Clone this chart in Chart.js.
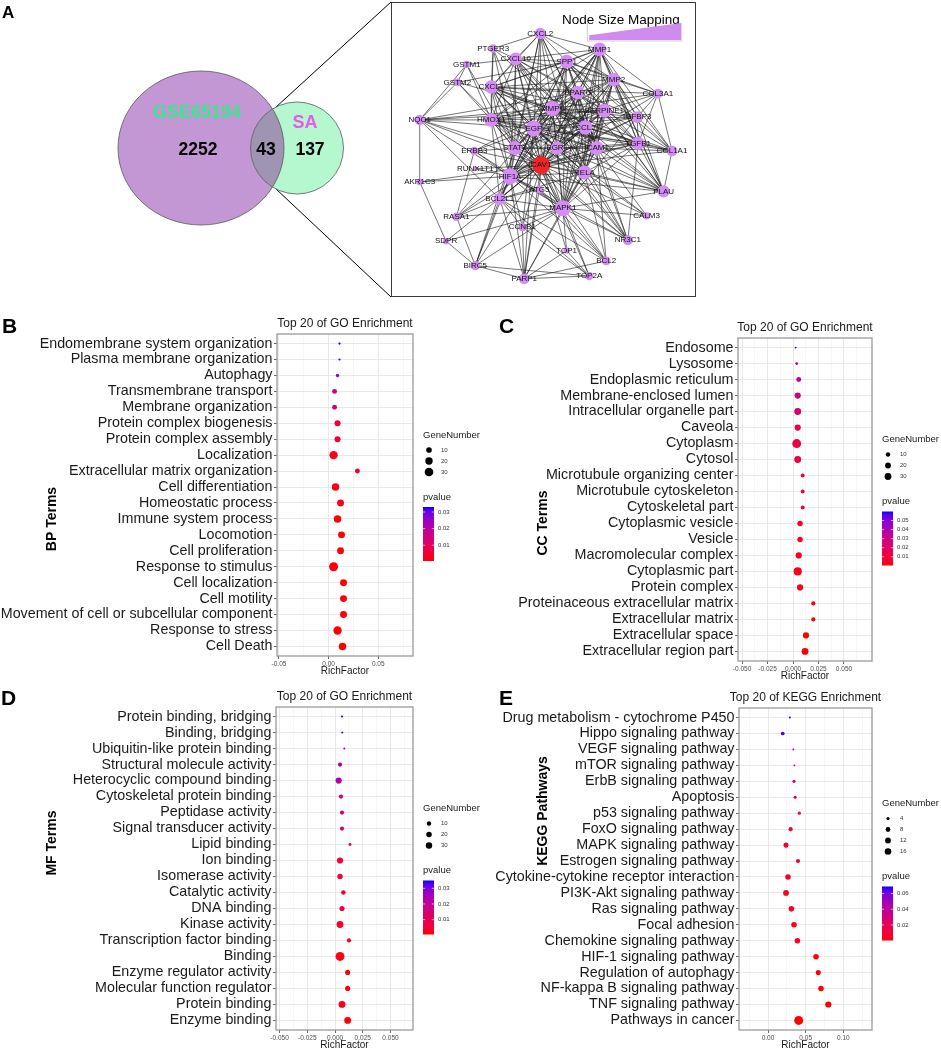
<!DOCTYPE html>
<html>
<head>
<meta charset="utf-8">
<script src="https://cdn.jsdelivr.net/npm/chart.js@4.4.1/dist/chart.umd.min.js"></script>
<style>
  body { margin: 0; background: #fff; width: 941px; height: 1051px; position: relative; overflow: hidden; }
  canvas { position: absolute; }
  .letter { position: absolute; font-family: "Liberation Sans", Arial, sans-serif; font-weight: bold; color: #000; }
  #netBox { position: absolute; left: 391px; top: 2px; width: 303px; height: 293px; border: 1.5px solid #3a3a3a; }
</style>
</head>
<body>
<canvas id="venn" width="392" height="300" style="left:0;top:0"></canvas>
<canvas id="network" width="308" height="300" style="left:390px;top:0"></canvas>
<div id="netBox"></div>
<canvas id="bp" width="500" height="378" style="left:0;top:305px"></canvas>
<canvas id="cc" width="471" height="378" style="left:470px;top:305px"></canvas>
<canvas id="mf" width="500" height="368" style="left:0;top:683px"></canvas>
<canvas id="kegg" width="471" height="368" style="left:470px;top:683px"></canvas>
<div class="letter" style="left:2px;top:4px;font-size:17px;line-height:17px">A</div>
<div class="letter" style="left:2px;top:315px;font-size:21px;line-height:21px">B</div>
<div class="letter" style="left:499px;top:315px;font-size:21px;line-height:21px">C</div>
<div class="letter" style="left:1px;top:687px;font-size:21px;line-height:21px">D</div>
<div class="letter" style="left:499px;top:687px;font-size:21px;line-height:21px">E</div>
<script>
const FONT = '"Liberation Sans", Arial, Helvetica, sans-serif';
Chart.defaults.font.family = FONT;

// ---- Panel A data ----
const vennNames = ['GSE65194', 'SA'];
const vennCounts = [2252, 43, 137]; // only GSE65194, both, only SA

const nodeNames = ['CXCL2', 'PTGER3', 'CXCL10', 'SPP1', 'MMP1', 'GSTM1', 'GSTM2', 'CXCL1', 'MMP2', 'PPARG',
  'COL3A1', 'MMP9', 'SERPINE1', 'IGFBP3', 'NQO1', 'HMOX1', 'EGF', 'CCL2', 'STAT3', 'EGR1',
  'ICAM1', 'TGFB1', 'COL1A1', 'ERBB3', 'CAV1', 'RUNX1T1', 'HIF1A', 'RELA', 'AKR1C3', 'ATG5',
  'PLAU', 'BCL2L1', 'MAPK1', 'RASA1', 'CALM3', 'CCNB1', 'SDPR', 'NR3C1', 'TOP1', 'BCL2',
  'BIRC5', 'PARP1', 'TOP2A'];
// layout coordinates of the network drawing
const nodeX = [150, 100, 124, 178, 213, 72, 62, 98, 228, 190,
  275, 163, 218, 253, 22, 98, 143, 198, 123, 168,
  210, 254, 290, 80, 151, 81, 118, 197, 22, 149,
  281, 107, 174, 61, 263, 131, 50, 243, 178, 220,
  81, 133, 202];
const nodeY = [26, 42, 53, 56, 43, 59, 78, 83, 75, 89,
  90, 106, 108, 115, 118, 118, 127, 126, 148, 148,
  148, 143, 151, 151, 166, 170, 178, 174, 184, 192,
  194, 202, 212, 221, 220, 232, 247, 246, 257, 268,
  273, 287, 284];
// interactions: first gene of each line linked to every following gene
const edgeList = [
  'CAV1 HIF1A EGF MMP9 CCL2 STAT3 EGR1 ICAM1 RELA MAPK1 BCL2L1 HMOX1 CXCL1 CXCL10 CXCL2 SPP1 MMP1 MMP2 PPARG SERPINE1 TGFB1 PLAU IGFBP3 COL1A1 COL3A1 ATG5 ERBB3 RUNX1T1 AKR1C3 NQO1 RASA1 SDPR CCNB1 BIRC5 PARP1 TOP1 TOP2A BCL2 NR3C1 CALM3 GSTM2 PTGER3',
  'HIF1A EGF MMP9 CCL2 STAT3 EGR1 ICAM1 RELA MAPK1 BCL2L1 HMOX1 CXCL1 CXCL10 CXCL2 SPP1 MMP1 MMP2 PPARG SERPINE1 TGFB1 PLAU IGFBP3 ATG5 ERBB3 RUNX1T1 AKR1C3 NQO1 BIRC5 PARP1 BCL2 NR3C1 CCNB1 RASA1',
  'EGF MMP9 CCL2 STAT3 EGR1 ICAM1 RELA MAPK1 BCL2L1 HMOX1 CXCL1 CXCL10 CXCL2 SPP1 MMP1 MMP2 PPARG SERPINE1 TGFB1 PLAU IGFBP3 COL1A1 ERBB3 NQO1 RASA1 CCNB1 PARP1 NR3C1 CALM3',
  'MMP9 CCL2 STAT3 EGR1 ICAM1 RELA MAPK1 BCL2L1 HMOX1 CXCL1 CXCL10 CXCL2 SPP1 MMP1 MMP2 PPARG SERPINE1 TGFB1 PLAU IGFBP3 COL1A1 COL3A1 ERBB3 NR3C1 GSTM2 NQO1',
  'CCL2 STAT3 EGR1 ICAM1 RELA MAPK1 HMOX1 CXCL1 CXCL10 CXCL2 SPP1 MMP1 MMP2 PPARG SERPINE1 TGFB1 PLAU IGFBP3 COL1A1 NR3C1 PTGER3 BCL2L1',
  'STAT3 EGR1 ICAM1 RELA MAPK1 BCL2L1 HMOX1 CXCL1 CXCL10 CXCL2 SPP1 MMP1 PPARG SERPINE1 ERBB3 NQO1 BIRC5 PTGER3 NR3C1 GSTM1',
  'EGR1 ICAM1 RELA MAPK1 HMOX1 CXCL1 CXCL10 SPP1 MMP1 MMP2 SERPINE1 TGFB1 PLAU PPARG NR3C1',
  'ICAM1 RELA MAPK1 HMOX1 CXCL1 CXCL10 CXCL2 SPP1 MMP1 MMP2 SERPINE1 TGFB1 PLAU COL1A1 PPARG NR3C1 CALM3 BCL2',
  'RELA MAPK1 BCL2L1 HMOX1 CXCL1 CXCL10 CXCL2 MMP1 MMP2 SERPINE1 TGFB1 PLAU PPARG PARP1 BCL2 NR3C1 CALM3',
  'MAPK1 BCL2L1 HMOX1 CXCL1 SPP1 MMP1 MMP2 SERPINE1 TGFB1 PLAU PPARG RASA1 SDPR CCNB1 BIRC5 PARP1 TOP1 TOP2A BCL2 NR3C1 CALM3 ERBB3 IGFBP3',
  'BCL2L1 HMOX1 BIRC5 PARP1 BCL2 CCNB1 TOP2A NQO1 ATG5 RASA1',
  'HMOX1 CXCL1 CXCL10 NQO1 GSTM1 GSTM2 PTGER3 MMP1 SPP1 PPARG SERPINE1 TGFB1 IGFBP3',
  'CXCL1 CXCL10 CXCL2 PTGER3 MMP1 SPP1 MMP2 PPARG SERPINE1 TGFB1 COL3A1',
  'CXCL10 CXCL2 PTGER3 MMP1 SPP1 GSTM1 MMP2 SERPINE1 PPARG',
  'CXCL2 PTGER3 MMP1 SPP1 MMP2',
  'SPP1 MMP1 MMP2 PPARG SERPINE1 TGFB1 PLAU IGFBP3 COL1A1 COL3A1 GSTM2',
  'MMP1 MMP2 PPARG SERPINE1 TGFB1 PLAU IGFBP3 COL1A1 COL3A1',
  'MMP2 PPARG SERPINE1 TGFB1 PLAU IGFBP3 COL1A1 COL3A1',
  'PPARG SERPINE1 TGFB1 PLAU IGFBP3 NQO1',
  'SERPINE1 TGFB1 PLAU IGFBP3 COL1A1 COL3A1 NQO1',
  'TGFB1 PLAU IGFBP3 COL1A1 COL3A1 NR3C1',
  'PLAU IGFBP3 COL1A1',
  'IGFBP3 COL1A1 COL3A1',
  'COL1A1 COL3A1',
  'GSTM1 GSTM2 NQO1',
  'GSTM2 NQO1',
  'NQO1 AKR1C3',
  'AKR1C3 SDPR',
  'RASA1 ERBB3 BIRC5',
  'BIRC5 PARP1 TOP2A SDPR',
  'PARP1 TOP2A TOP1 BCL2 CCNB1',
  'TOP2A TOP1 CCNB1',
  'ATG5 PARP1 MAPK1 BCL2'
];

// ---- Panel B: BP ----
const bpTerms = ['Endomembrane system organization', 'Plasma membrane organization', 'Autophagy',
  'Transmembrane transport', 'Membrane organization', 'Protein complex biogenesis', 'Protein complex assembly',
  'Localization', 'Extracellular matrix organization', 'Cell differentiation', 'Homeostatic process',
  'Immune system process', 'Locomotion', 'Cell proliferation', 'Response to stimulus', 'Cell localization',
  'Cell motility', 'Movement of cell or subcellular component', 'Response to stress', 'Cell Death'];
const bpRich = [0.011, 0.011, 0.009, 0.006, 0.006, 0.009, 0.009, 0.005, 0.029, 0.007,
  0.012, 0.009, 0.013, 0.012, 0.005, 0.015, 0.015, 0.015, 0.009, 0.014];
const bpGenes = [2, 2, 3, 7, 7, 12, 12, 27, 7, 21, 17, 21, 17, 17, 33, 17, 17, 17, 27, 21];
const bpPvalue = [0.033, 0.032, 0.026, 0.017, 0.016, 0.006, 0.006, 0.002, 0.003, 0.002,
  0.002, 0.001, 0.001, 0.001, 0.0005, 0.0008, 0.0008, 0.0008, 0.0007, 0.0006];

// ---- Panel C: CC ----
const ccTerms = ['Endosome', 'Lysosome', 'Endoplasmic reticulum', 'Membrane-enclosed lumen',
  'Intracellular organelle part', 'Caveola', 'Cytoplasm', 'Cytosol', 'Microtubule organizing center',
  'Microtubule cytoskeleton', 'Cytoskeletal part', 'Cytoplasmic vesicle', 'Vesicle', 'Macromolecular complex',
  'Cytoplasmic part', 'Protein complex', 'Proteinaceous extracellular matrix', 'Extracellular matrix',
  'Extracellular space', 'Extracellular region part'];
const ccRich = [0.0026, 0.0036, 0.0056, 0.0046, 0.0046, 0.0046, 0.0036, 0.0046, 0.0095, 0.0095,
  0.0095, 0.0069, 0.0069, 0.0056, 0.0046, 0.0069, 0.0199, 0.0199, 0.0127, 0.0118];
const ccGenes = [2, 3, 13, 24, 32, 24, 60, 32, 7, 7, 7, 17, 17, 24, 49, 24, 8, 8, 24, 32];
const ccPvalue = [0.060, 0.045, 0.036, 0.027, 0.024, 0.014, 0.012, 0.012, 0.005, 0.005,
  0.005, 0.004, 0.004, 0.004, 0.003, 0.003, 0.001, 0.001, 0.0005, 0.0004];

// ---- Panel D: MF ----
const mfTerms = ['Protein binding, bridging', 'Binding, bridging', 'Ubiquitin-like protein binding',
  'Structural molecule activity', 'Heterocyclic compound binding', 'Cytoskeletal protein binding',
  'Peptidase activity', 'Signal transducer activity', 'Lipid binding', 'Ion binding', 'Isomerase activity',
  'Catalytic activity', 'DNA binding', 'Kinase activity', 'Transcription factor binding', 'Binding',
  'Enzyme regulator activity', 'Molecular function regulator', 'Protein binding', 'Enzyme binding'];
const mfRich = [0.0063, 0.0066, 0.0084, 0.0045, 0.0033, 0.0054, 0.0063, 0.0063, 0.0135, 0.0045,
  0.0045, 0.0075, 0.0063, 0.0045, 0.0126, 0.0045, 0.0114, 0.0114, 0.0063, 0.0114];
const mfGenes = [2, 2, 2, 9, 27, 9, 9, 9, 3, 27, 19, 11, 16, 36, 9, 70, 16, 16, 36, 36];
const mfPvalue = [0.035, 0.034, 0.027, 0.024, 0.022, 0.016, 0.013, 0.012, 0.009, 0.005,
  0.005, 0.004, 0.007, 0.004, 0.003, 0.002, 0.001, 0.001, 0.002, 0.0005];

// ---- Panel E: KEGG ----
const keggTerms = ['Drug metabolism - cytochrome P450', 'Hippo signaling pathway', 'VEGF signaling pathway',
  'mTOR signaling pathway', 'ErbB signaling pathway', 'Apoptosis', 'p53 signaling pathway',
  'FoxO signaling pathway', 'MAPK signaling pathway', 'Estrogen signaling pathway',
  'Cytokine-cytokine receptor interaction', 'PI3K-Akt signaling pathway', 'Ras signaling pathway',
  'Focal adhesion', 'Chemokine signaling pathway', 'HIF-1 signaling pathway', 'Regulation of autophagy',
  'NF-kappa B signaling pathway', 'TNF signaling pathway', 'Pathways in cancer'];
const keggRich = [0.029, 0.0195, 0.0336, 0.035, 0.0345, 0.036, 0.0416, 0.030, 0.0239, 0.0398,
  0.0265, 0.0239, 0.031, 0.0345, 0.039, 0.0637, 0.0667, 0.0703, 0.080, 0.0407];
const keggGenes = [3, 5, 3, 3, 4, 4, 4, 6, 9, 6, 11, 12, 11, 11, 11, 11, 9, 11, 14, 32];
const keggPvalue = [0.069, 0.066, 0.050, 0.044, 0.030, 0.026, 0.016, 0.010, 0.008, 0.006,
  0.006, 0.005, 0.004, 0.003, 0.003, 0.001, 0.0008, 0.0006, 0.0004, 0.0002];

// red -> blue gradient interpolated in Lab, like ggplot's scale_colour_gradient
function hexToLab(h) {
  const c = [1, 3, 5].map(i => parseInt(h.slice(i, i + 2), 16) / 255)
    .map(v => v <= 0.04045 ? v / 12.92 : Math.pow((v + 0.055) / 1.055, 2.4));
  const X = (0.4124 * c[0] + 0.3576 * c[1] + 0.1805 * c[2]) / 0.95047;
  const Y = 0.2126 * c[0] + 0.7152 * c[1] + 0.0722 * c[2];
  const Z = (0.0193 * c[0] + 0.1192 * c[1] + 0.9505 * c[2]) / 1.08883;
  const f = t => t > 0.008856 ? Math.cbrt(t) : 7.787 * t + 16 / 116;
  return [116 * f(Y) - 16, 500 * (f(X) - f(Y)), 200 * (f(Y) - f(Z))];
}
function labToCss(L, a, b) {
  const fy = (L + 16) / 116, fx = fy + a / 500, fz = fy - b / 200;
  const inv = t => t * t * t > 0.008856 ? t * t * t : (t - 16 / 116) / 7.787;
  const X = inv(fx) * 0.95047, Y = inv(fy), Z = inv(fz) * 1.08883;
  const lin = [3.2406 * X - 1.5372 * Y - 0.4986 * Z, -0.9689 * X + 1.8758 * Y + 0.0415 * Z, 0.0557 * X - 0.2040 * Y + 1.0570 * Z];
  const rgb = lin.map(v => v <= 0.0031308 ? 12.92 * v : 1.055 * Math.pow(v, 1 / 2.4) - 0.055)
    .map(v => Math.round(Math.min(1, Math.max(0, v)) * 255));
  return `rgb(${rgb.join(',')})`;
}
const LOW = hexToLab('#FF0000'), HIGH = hexToLab('#0000FF');
function gradColor(t) {
  t = Math.min(1, Math.max(0, t));
  return labToCss(LOW[0] + (HIGH[0] - LOW[0]) * t, LOW[1] + (HIGH[1] - LOW[1]) * t, LOW[2] + (HIGH[2] - LOW[2]) * t);
}

// Dot plot (ggplot style) for one enrichment panel
function makeDotPlot(cfg) {
  const canvas = document.getElementById(cfg.id);
  const W = canvas.width, H = canvas.height;
  const nMin = Math.min(...cfg.genes), nMax = Math.max(...cfg.genes);
  const pMin = Math.min(...cfg.pvals), pMax = Math.max(...cfg.pvals);
  const diam = n => cfg.dRange[0] + (cfg.dRange[1] - cfg.dRange[0]) * Math.sqrt((n - nMin) / (nMax - nMin));
  const col = p => gradColor((p - pMin) / (pMax - pMin));
  const isMajor = v => cfg.xMajor.some(m => Math.abs(m - v) < 1e-9);

  const decor = {
    id: 'decor',
    afterDraw(chart) {
      const { ctx, chartArea: a } = chart;
      ctx.save();
      // panel border
      ctx.strokeStyle = '#9a9a9a';
      ctx.lineWidth = 1.3;
      ctx.strokeRect(a.left, a.top, a.right - a.left, a.bottom - a.top);
      // title and x title
      ctx.fillStyle = '#1a1a1a';
      ctx.textAlign = 'center';
      ctx.textBaseline = 'middle';
      ctx.font = `12px ${FONT}`;
      ctx.fillText(cfg.title, (a.left + a.right) / 2, a.top - 10);
      ctx.font = `10px ${FONT}`;
      ctx.fillText('RichFactor', (a.left + a.right) / 2, a.bottom + 15);
      // y title
      ctx.save();
      ctx.translate(cfg.yTitlePos[0], cfg.yTitlePos[1]);
      ctx.rotate(-Math.PI / 2);
      ctx.font = `bold 14px ${FONT}`;
      ctx.fillStyle = '#000';
      ctx.fillText(cfg.yTitle, 0, 0);
      ctx.restore();

      // legends
      const k = cfg.breaks.length;
      const mid = (a.top + a.bottom) / 2 - (k - 3) * 5.5;
      const lx = a.right;
      ctx.textAlign = 'left';
      ctx.font = `9.5px ${FONT}`;
      ctx.fillStyle = '#1a1a1a';
      ctx.fillText('GeneNumber', lx + 10, mid - 60);
      cfg.breaks.forEach((b, i) => {
        const yy = mid - 45 + 11 * i;
        ctx.beginPath();
        ctx.arc(lx + 16, yy, diam(b) / 2, 0, Math.PI * 2);
        ctx.fillStyle = '#000';
        ctx.fill();
        ctx.fillStyle = '#333';
        ctx.font = `6px ${FONT}`;
        ctx.fillText(String(b), lx + 28, yy);
      });
      const pTitleY = mid - 45 + 11 * (k - 1) + 25;
      ctx.font = `9.5px ${FONT}`;
      ctx.fillStyle = '#1a1a1a';
      ctx.fillText('pvalue', lx + 10, pTitleY);
      const barTop = pTitleY + 10, barH = 54, barX = lx + 10, barW = 11;
      const grad = ctx.createLinearGradient(0, barTop, 0, barTop + barH);
      for (let s = 0; s <= 20; s++) grad.addColorStop(s / 20, gradColor(1 - s / 20));
      ctx.fillStyle = grad;
      ctx.fillRect(barX, barTop, barW, barH);
      ctx.font = `6px ${FONT}`;
      cfg.pBreaks.forEach(v => {
        const yy = barTop + barH - (v - pMin) / (pMax - pMin) * barH;
        ctx.strokeStyle = '#fff';
        ctx.lineWidth = 0.6;
        ctx.beginPath();
        ctx.moveTo(barX, yy); ctx.lineTo(barX + 2.2, yy);
        ctx.moveTo(barX + barW - 2.2, yy); ctx.lineTo(barX + barW, yy);
        ctx.stroke();
        ctx.fillStyle = '#333';
        ctx.fillText(v.toFixed(2), barX + barW + 4, yy);
      });
      ctx.restore();
    }
  };

  return new Chart(canvas, {
    type: 'bubble',
    data: {
      datasets: [{
        data: cfg.terms.map((t, i) => ({ x: cfg.rich[i], y: i, r: diam(cfg.genes[i]) / 2 })),
        backgroundColor: cfg.pvals.map(col),
        borderWidth: 0,
        hoverRadius: 0
      }]
    },
    options: {
      responsive: false,
      animation: false,
      events: [],
      layout: { padding: { left: 0, top: cfg.box[1], right: W - cfg.box[2], bottom: 0 } },
      plugins: { legend: { display: false }, tooltip: { enabled: false } },
      scales: {
        x: {
          type: 'linear', min: cfg.xMin, max: cfg.xMax,
          afterBuildTicks: s => { s.ticks = cfg.xGrid.map(v => ({ value: v })); },
          afterFit: s => { s.height = H - cfg.box[3]; },
          border: { display: false },
          grid: {
            color: c => isMajor(c.tick.value) ? '#e6e6e6' : '#f2f2f2',
            lineWidth: c => isMajor(c.tick.value) ? 0.9 : 0.6,
            tickColor: c => isMajor(c.tick.value) ? '#555' : 'rgba(0,0,0,0)',
            tickLength: 3
          },
          ticks: {
            autoSkip: false, maxRotation: 0, padding: 1, color: '#4d4d4d',
            font: { size: 6.5 },
            callback: v => {
              const j = cfg.xMajor.findIndex(m => Math.abs(m - v) < 1e-9);
              return j >= 0 ? cfg.xLabels[j] : '';
            }
          }
        },
        y: {
          type: 'linear', min: -0.6, max: cfg.terms.length - 0.4, reverse: true,
          afterBuildTicks: s => { s.ticks = cfg.terms.map((t, i) => ({ value: i })); },
          afterFit: s => { s.width = cfg.box[0]; },
          border: { display: false },
          grid: { color: '#e6e6e6', lineWidth: 0.9, tickColor: '#555', tickLength: 3 },
          ticks: {
            autoSkip: false, padding: 1.5, color: '#1a1a1a',
            font: { size: 14.3 },
            callback: v => cfg.terms[v]
          }
        }
      }
    },
    plugins: [decor]
  });
}

makeDotPlot({
  id: 'bp', title: 'Top 20 of GO Enrichment', yTitle: 'BP Terms', yTitlePos: [52, 519 - 305],
  terms: bpTerms, rich: bpRich, genes: bpGenes, pvals: bpPvalue,
  box: [277, 29, 413, 351], dRange: [2.2, 9],
  xMin: -0.052, xMax: 0.085, xMajor: [-0.05, 0, 0.05], xLabels: ['-0.05', '0.00', '0.05'],
  xGrid: [-0.05, -0.025, 0, 0.025, 0.05, 0.075],
  breaks: [10, 20, 30], pBreaks: [0.01, 0.02, 0.03]
});
makeDotPlot({
  id: 'cc', title: 'Top 20 of GO Enrichment', yTitle: 'CC Terms', yTitlePos: [543 - 470, 523 - 305],
  terms: ccTerms, rich: ccRich, genes: ccGenes, pvals: ccPvalue,
  box: [268, 33, 402, 356], dRange: [1.9, 8.9],
  xMin: -0.054, xMax: 0.0775, xMajor: [-0.05, -0.025, 0, 0.025, 0.05],
  xLabels: ['-0.050', '-0.025', '0.000', '0.025', '0.050'],
  xGrid: [-0.05, -0.0375, -0.025, -0.0125, 0, 0.0125, 0.025, 0.0375, 0.05, 0.0625],
  breaks: [10, 20, 30], pBreaks: [0.01, 0.02, 0.03, 0.04, 0.05]
});
makeDotPlot({
  id: 'mf', title: 'Top 20 of GO Enrichment', yTitle: 'MF Terms', yTitlePos: [52, 843 - 683],
  terms: mfTerms, rich: mfRich, genes: mfGenes, pvals: mfPvalue,
  box: [276, 24, 413, 347], dRange: [2, 8.9],
  xMin: -0.0532, xMax: 0.0703, xMajor: [-0.05, -0.025, 0, 0.025, 0.05],
  xLabels: ['-0.050', '-0.025', '0.000', '0.025', '0.050'],
  xGrid: [-0.05, -0.0375, -0.025, -0.0125, 0, 0.0125, 0.025, 0.0375, 0.05, 0.0625],
  breaks: [10, 20, 30], pBreaks: [0.01, 0.02, 0.03]
});
makeDotPlot({
  id: 'kegg', title: 'Top 20 of KEGG Enrichment', yTitle: 'KEGG Pathways', yTitlePos: [543 - 470, 811 - 683],
  terms: keggTerms, rich: keggRich, genes: keggGenes, pvals: keggPvalue,
  box: [269, 25, 402, 347], dRange: [1.9, 8.9],
  xMin: -0.0385, xMax: 0.138, xMajor: [0, 0.05, 0.1], xLabels: ['0.00', '0.05', '0.10'],
  xGrid: [-0.025, 0, 0.025, 0.05, 0.075, 0.1, 0.125],
  breaks: [4, 8, 12, 16], pBreaks: [0.02, 0.04, 0.06]
});

// ---- Venn diagram ----
const vennPlugin = {
  id: 'vennDraw',
  afterDraw(chart) {
    const { ctx, scales: { x, y } } = chart;
    const px = v => x.getPixelForValue(v), py = v => y.getPixelForValue(v);
    const big = { cx: 201, cy: 148, rx: 83, ry: 77 };
    const small = { cx: 297, cy: 148, rx: 46.5, ry: 46 };
    const path = e => {
      ctx.beginPath();
      ctx.ellipse(px(e.cx), py(e.cy), Math.abs(px(e.cx + e.rx) - px(e.cx)), Math.abs(py(e.cy + e.ry) - py(e.cy)), 0, 0, Math.PI * 2);
    };
    ctx.save();
    // zoom lines to the network box
    ctx.strokeStyle = '#000';
    ctx.lineWidth = 1;
    ctx.beginPath();
    ctx.moveTo(px(275), py(108)); ctx.lineTo(px(391), py(2));
    ctx.moveTo(px(275), py(188)); ctx.lineTo(px(391), py(297));
    ctx.stroke();
    path(big); ctx.fillStyle = '#C397D4'; ctx.fill();
    path(small); ctx.fillStyle = '#B5F7CF'; ctx.fill();
    ctx.save();
    path(big); ctx.clip();
    path(small); ctx.fillStyle = '#9F95B3'; ctx.fill();
    ctx.restore();
    ctx.strokeStyle = '#5a5a5a';
    ctx.lineWidth = 0.8;
    path(big); ctx.stroke();
    path(small); ctx.stroke();
    ctx.textAlign = 'center';
    ctx.textBaseline = 'middle';
    ctx.font = `bold 18px ${FONT}`;
    ctx.fillStyle = '#3FE58E';
    ctx.fillText(vennNames[0], px(197), py(113));
    ctx.fillStyle = '#E55CE8';
    ctx.fillText(vennNames[1], px(305), py(123));
    ctx.fillStyle = '#000';
    ctx.font = `bold 17.5px ${FONT}`;
    ctx.fillText(String(vennCounts[0]), px(198), py(150));
    ctx.fillText(String(vennCounts[1]), px(266), py(150));
    ctx.fillText(String(vennCounts[2]), px(310), py(150));
    ctx.restore();
  }
};
new Chart(document.getElementById('venn'), {
  type: 'scatter',
  data: { datasets: [] },
  options: {
    responsive: false, animation: false, events: [],
    layout: { padding: 0 },
    plugins: { legend: { display: false }, tooltip: { enabled: false } },
    scales: {
      x: { type: 'linear', min: 0, max: 392, display: false },
      y: { type: 'linear', min: 0, max: 300, reverse: true, display: false }
    }
  },
  plugins: [vennPlugin]
});

// ---- PPI network ----
const edges = [];
edgeList.forEach(line => {
  const [src, ...targets] = line.split(' ');
  targets.forEach(t => edges.push([src, t]));
});
const degree = {};
nodeNames.forEach(n => { degree[n] = 0; });
edges.forEach(([a, b]) => { degree[a]++; degree[b]++; });
const maxDeg = Math.max(...Object.values(degree));
const nodeRadius = n => 2.5 + 6.5 * Math.pow(Math.max(0, degree[n] - 3) / (maxDeg - 3), 0.6);
const nodeIndex = {};
nodeNames.forEach((n, i) => { nodeIndex[n] = i; });

const networkPlugin = {
  id: 'netDraw',
  beforeDatasetsDraw(chart) {
    const { ctx, scales: { x, y } } = chart;
    ctx.save();
    ctx.strokeStyle = 'rgba(25,25,25,0.8)';
    ctx.lineWidth = 0.75;
    ctx.beginPath();
    edges.forEach(([a, b]) => {
      const i = nodeIndex[a], j = nodeIndex[b];
      ctx.moveTo(x.getPixelForValue(nodeX[i]), y.getPixelForValue(nodeY[i]));
      ctx.lineTo(x.getPixelForValue(nodeX[j]), y.getPixelForValue(nodeY[j]));
    });
    ctx.stroke();
    ctx.restore();
  },
  afterDatasetsDraw(chart) {
    const { ctx, scales: { x, y } } = chart;
    ctx.save();
    ctx.font = `8px ${FONT}`;
    ctx.fillStyle = '#111';
    ctx.textAlign = 'center';
    ctx.textBaseline = 'middle';
    nodeNames.forEach((n, i) => ctx.fillText(n, x.getPixelForValue(nodeX[i]), y.getPixelForValue(nodeY[i])));
    // node size mapping legend
    ctx.textAlign = 'left';
    ctx.textBaseline = 'alphabetic';
    ctx.font = `13.5px ${FONT}`;
    ctx.fillStyle = '#000';
    ctx.fillText('Node Size Mapping', x.getPixelForValue(173), y.getPixelForValue(16));
    ctx.fillStyle = '#D08BEE';
    ctx.beginPath();
    ctx.moveTo(x.getPixelForValue(202), y.getPixelForValue(33));
    ctx.lineTo(x.getPixelForValue(202), y.getPixelForValue(28));
    ctx.lineTo(x.getPixelForValue(300), y.getPixelForValue(15));
    ctx.lineTo(x.getPixelForValue(300), y.getPixelForValue(33));
    ctx.closePath();
    ctx.fill();
    ctx.strokeStyle = '#999';
    ctx.lineWidth = 0.5;
    ctx.beginPath();
    ctx.moveTo(x.getPixelForValue(200), y.getPixelForValue(14));
    ctx.lineTo(x.getPixelForValue(200), y.getPixelForValue(34));
    ctx.lineTo(x.getPixelForValue(301), y.getPixelForValue(34));
    ctx.stroke();
    ctx.restore();
  }
};
new Chart(document.getElementById('network'), {
  type: 'scatter',
  data: {
    datasets: [{
      data: nodeNames.map((n, i) => ({ x: nodeX[i], y: nodeY[i] })),
      pointRadius: nodeNames.map(nodeRadius),
      pointBackgroundColor: nodeNames.map(n => n === 'CAV1' ? '#F22424' : '#D58CF6'),
      pointBorderWidth: 0,
      pointHoverRadius: 0
    }]
  },
  options: {
    responsive: false, animation: false, events: [],
    layout: { padding: 0 },
    plugins: { legend: { display: false }, tooltip: { enabled: false } },
    scales: {
      x: { type: 'linear', min: 0, max: 308, display: false },
      y: { type: 'linear', min: 0, max: 300, reverse: true, display: false }
    }
  },
  plugins: [networkPlugin]
});
</script>
</body>
</html>
